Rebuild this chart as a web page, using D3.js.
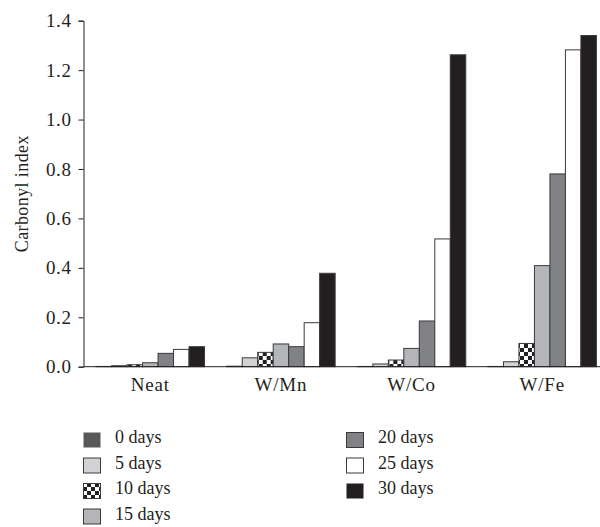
<!DOCTYPE html>
<html>
<head>
<meta charset="utf-8">
<script src="https://cdn.jsdelivr.net/npm/d3@7"></script>
<style>
  body { margin: 0; background: #fff; }
  svg { display: block; }
  text { font-family: "Liberation Serif", "Times New Roman", serif; fill: #231f20; }
</style>
</head>
<body>
<svg id="chart" width="600" height="527"></svg>
<script>
// ---- data ----
const categories = ["Neat", "W/Mn", "W/Co", "W/Fe"];
const seriesNames = ["0 days", "5 days", "10 days", "15 days", "20 days", "25 days", "30 days"];
const days0  = [0.001, 0.002, 0.001, 0.001];
const days5  = [0.004, 0.036, 0.011, 0.020];
const days10 = [0.008, 0.058, 0.027, 0.094];
const days15 = [0.016, 0.092, 0.074, 0.409];
const days20 = [0.054, 0.081, 0.185, 0.780];
const days25 = [0.070, 0.178, 0.517, 1.282];
const days30 = [0.081, 0.378, 1.262, 1.340];
const yTicks = [0, 0.2, 0.4, 0.6, 0.8, 1.0, 1.2, 1.4];
const seriesValues = [days0, days5, days10, days15, days20, days25, days30];
const fills = ["#58585a", "#d1d3d4", "url(#checker)", "#b3b5b8", "#808285", "#ffffff", "#231f20"];

const svg = d3.select("#chart");

// checker pattern
const defs = svg.append("defs");
const pat = defs.append("pattern").attr("id", "checker")
  .attr("patternUnits", "userSpaceOnUse").attr("width", 8).attr("height", 8);
pat.append("rect").attr("width", 8).attr("height", 8).attr("fill", "#231f20");
pat.append("rect").attr("x", 0).attr("y", 0).attr("width", 4).attr("height", 4).attr("fill", "#fff");
pat.append("rect").attr("x", 4).attr("y", 4).attr("width", 4).attr("height", 4).attr("fill", "#fff");

const axisX = 83.5;
const y = d3.scaleLinear().domain([0, 1.4]).range([366.7, 20.7]);
const x0 = d3.scaleBand().domain(categories).range([85, 607.5])
  .paddingInner(0.17).paddingOuter(0.085);
const x1 = d3.scaleBand().domain(seriesNames).range([0, x0.bandwidth()]);

// bars
const groups = svg.append("g").selectAll("g").data(categories).join("g")
  .attr("transform", d => `translate(${x0(d)},0)`);
groups.selectAll("rect")
  .data((c, ci) => seriesNames.map((s, si) => ({ s, si, v: seriesValues[si][ci] })))
  .join("rect")
  .attr("x", d => x1(d.s))
  .attr("y", d => y(d.v))
  .attr("width", x1.bandwidth())
  .attr("height", d => y(0) - y(d.v))
  .attr("fill", d => fills[d.si])
  .attr("stroke", "#3a3a3c")
  .attr("stroke-width", 1);

// y axis
const yAxis = svg.append("g").attr("transform", `translate(${axisX},0)`)
  .call(d3.axisLeft(y).tickValues(yTicks).tickFormat(d3.format(".1f")).tickSize(5).tickPadding(7));
yAxis.select(".domain").attr("stroke", "#231f20");
yAxis.selectAll(".tick line").attr("stroke", "#231f20");
yAxis.selectAll("text").style("font-size", "19px").attr("fill", "#231f20")
  .style("letter-spacing", "0.6px")
  .style("font-family", "'Liberation Serif', serif");

// x axis line
svg.append("line").attr("x1", axisX).attr("x2", 600)
  .attr("y1", y(0)).attr("y2", y(0)).attr("stroke", "#231f20").attr("stroke-width", 1);

// x labels
svg.append("g").selectAll("text").data(categories).join("text")
  .attr("x", d => x0(d) + x0.bandwidth() / 2)
  .attr("y", y(0) + 24)
  .attr("text-anchor", "middle")
  .style("font-size", "19px")
  .style("letter-spacing", "0.8px")
  .text(d => d);

// y title
svg.append("text")
  .attr("transform", `translate(28,${y(0.7)}) rotate(-90)`)
  .attr("text-anchor", "middle")
  .style("font-size", "18px")
  .style("letter-spacing", "0.4px")
  .text("Carbonyl index");

// legend
const legendPos = [
  [83, 432], [83, 457.5], [83, 483], [83, 508.5],
  [346, 432], [346, 457.5], [346, 483]
];
const leg = svg.append("g").selectAll("g").data(seriesNames).join("g")
  .attr("transform", (d, i) => `translate(${legendPos[i][0]},${legendPos[i][1]})`);
leg.append("rect").attr("x", 0.5).attr("y", 0.5).attr("width", 17).attr("height", 15)
  .attr("fill", (d, i) => fills[i])
  .attr("stroke", (d, i) => i === 0 || i === 6 ? "none" : "#3a3a3c")
  .attr("stroke-width", 1);
leg.append("text").attr("x", 32).attr("y", 11)
  .style("font-size", "18px")
  .text(d => d);
</script>
</body>
</html>
